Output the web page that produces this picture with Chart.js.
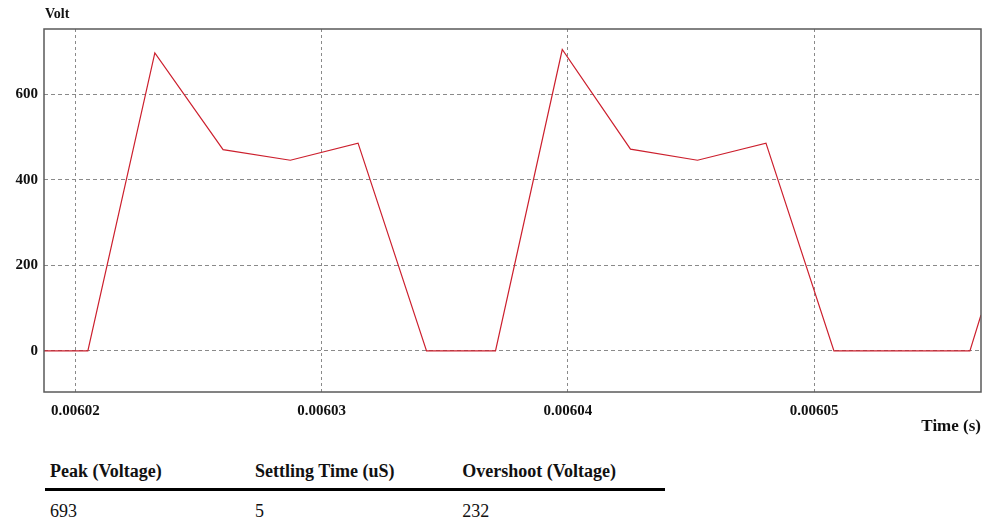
<!DOCTYPE html>
<html>
<head>
<meta charset="utf-8">
<script src="https://cdn.jsdelivr.net/npm/chart.js@4.4.1/dist/chart.umd.min.js"></script>
<style>
  html, body { margin: 0; padding: 0; background: #fff; }
  body { width: 983px; height: 532px; position: relative; overflow: hidden; }
  #wrap { position: absolute; left: 0; top: 0; width: 983px; height: 445px; }
  table.stats {
    position: absolute; left: 45px; top: 458px; width: 620px;
    border-collapse: collapse; font-family: "Liberation Serif", "DejaVu Serif", serif;
    font-size: 18px; color: #111;
  }
  table.stats th { text-align: left; font-weight: bold; padding: 3px 5px 6px 5px; border-bottom: 3px solid #000; }
  table.stats td { padding: 10px 5px 0 5px; }
</style>
</head>
<body>
<div id="wrap"><canvas id="voltChart"></canvas></div>
<table class="stats" id="stats"></table>

<script>
  // waveform (time in seconds, voltage in volts)
  const timeS = [
    0.00601873, 0.00602051, 0.00602323, 0.00602600, 0.00602873, 0.00603148,
    0.00603426, 0.00603706, 0.00603977, 0.00604254, 0.00604526, 0.00604804,
    0.00605080, 0.00605632, 0.00605677
  ];
  const voltage = [0, 0, 697, 471, 446, 486, 0, 0, 705, 472, 446, 486, 0, 0, 84];

  const xTicks = [0.00602, 0.00603, 0.00604, 0.00605];
  const yTicks = [0, 200, 400, 600];

  const statHeaders = ["Peak (Voltage)", "Settling Time (uS)", "Overshoot (Voltage)"];
  const statValues = ["693", "5", "232"];

  // table under the chart
  const table = document.getElementById("stats");
  table.innerHTML =
    "<tr>" + statHeaders.map((h, i) => `<th style="width:${[205, 208, 207][i]}px">${h}</th>`).join("") + "</tr>" +
    "<tr>" + statValues.map((v) => `<td>${v}</td>`).join("") + "</tr>";

  const serif = "'Liberation Serif', 'DejaVu Serif', serif";

  // frame around plot + "Volt" label
  const framePlugin = {
    id: "frame",
    afterDraw(chart) {
      const { ctx, chartArea: a } = chart;
      ctx.save();
      ctx.strokeStyle = "#5a5a5a";
      ctx.lineWidth = 1.5;
      ctx.strokeRect(a.left, a.top, a.right - a.left, a.bottom - a.top);
      ctx.fillStyle = "#111";
      ctx.font = "bold 14px " + serif;
      ctx.textAlign = "left";
      ctx.textBaseline = "alphabetic";
      ctx.fillText("Volt", a.left + 1, 18);
      ctx.restore();
    },
  };

  new Chart(document.getElementById("voltChart"), {
    type: "line",
    data: {
      datasets: [
        {
          data: timeS.map((t, i) => ({ x: t, y: voltage[i] })),
          borderColor: "#cc1f2d",
          borderWidth: 1.2,
          pointRadius: 0,
          tension: 0,
          fill: false,
        },
      ],
    },
    options: {
      responsive: true,
      maintainAspectRatio: false,
      animation: false,
      layout: { padding: { top: 29, right: 2, left: 0, bottom: 0 } },
      plugins: {
        legend: { display: false },
        tooltip: { enabled: false },
      },
      scales: {
        x: {
          type: "linear",
          min: 0.00601873,
          max: 0.00605677,
          afterBuildTicks: (scale) => {
            scale.ticks = xTicks.map((v) => ({ value: v }));
          },
          afterFit: (scale) => {
            scale.height = 53;
          },
          ticks: {
            padding: 10,
            color: "#111",
            font: { family: serif, size: 15, weight: "bold" },
            callback: (v) => v.toFixed(5),
            maxRotation: 0,
          },
          grid: { color: "#8a8a8a", drawTicks: false, lineWidth: 1 },
          border: { display: false, dash: [3, 3] },
          title: {
            display: true,
            text: "Time (s)",
            align: "end",
            color: "#111",
            font: { family: serif, size: 17, weight: "bold" },
            padding: { top: 0, bottom: 8 },
          },
        },
        y: {
          min: -96,
          max: 753,
          afterBuildTicks: (scale) => {
            scale.ticks = yTicks.map((v) => ({ value: v }));
          },
          afterFit: (scale) => {
            scale.width = 44;
          },
          ticks: {
            padding: 6,
            color: "#111",
            font: { family: serif, size: 15, weight: "bold" },
          },
          grid: { color: "#8a8a8a", drawTicks: false, lineWidth: 1 },
          border: { display: false, dash: [4, 3] },
        },
      },
    },
    plugins: [framePlugin],
  });
</script>
</body>
</html>
